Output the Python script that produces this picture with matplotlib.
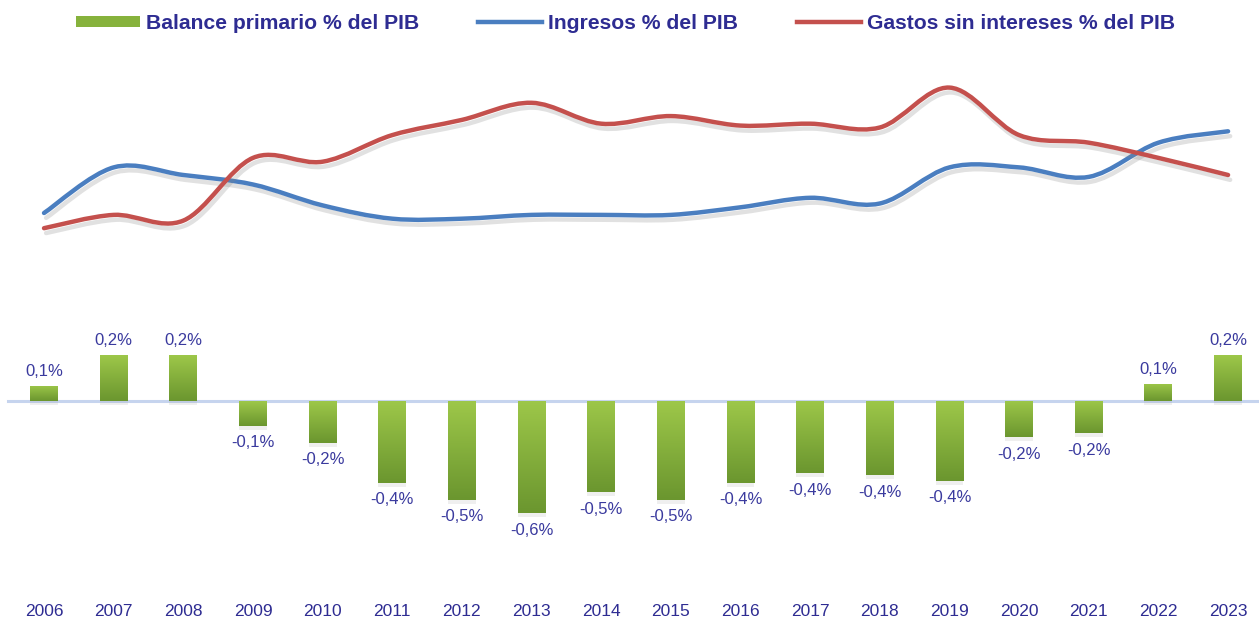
# imports
import matplotlib.pyplot as plt
import matplotlib.patheffects as pe
import numpy as np
from matplotlib.colors import LinearSegmentedColormap
from matplotlib.lines import Line2D
from matplotlib.patches import Patch, PathPatch
from matplotlib.path import Path

# set plotting params
plt.rcParams['font.family'] = ['Liberation Sans Narrow', 'Liberation Sans', 'DejaVu Sans']

# data
years = ['2006', '2007', '2008', '2009', '2010', '2011', '2012', '2013', '2014',
         '2015', '2016', '2017', '2018', '2019', '2020', '2021', '2022', '2023']
balance = [0.08, 0.24, 0.24, -0.13, -0.22, -0.43, -0.52, -0.59, -0.48,
           -0.52, -0.43, -0.38, -0.39, -0.42, -0.19, -0.17, 0.09, 0.24]
ingresos = [20.00, 20.24, 20.20, 20.15, 20.04, 19.97, 19.97, 19.99, 19.99,
            19.99, 20.03, 20.08, 20.05, 20.24, 20.24, 20.19, 20.37, 20.43]
gastos = [19.92, 19.99, 19.96, 20.29, 20.27, 20.41, 20.49, 20.58, 20.47,
          20.51, 20.46, 20.47, 20.45, 20.66, 20.41, 20.37, 20.29, 20.20]

NAVY = '#2E2C92'
LABEL = '#3A3A9E'
BLUE = '#4A7EC0'
RED = '#C4504D'
GREEN = '#86B23C'


def smooth_path(x, y):
    '''excel-like smoothed curve as a bezier path through the points'''
    x = np.asarray(x, dtype=float)
    y = np.asarray(y, dtype=float)
    n = len(x)
    verts = [(x[0], y[0])]
    codes = [Path.MOVETO]
    for i in range(n - 1):
        p0 = np.array([x[max(i - 1, 0)], y[max(i - 1, 0)]])
        p1 = np.array([x[i], y[i]])
        p2 = np.array([x[i + 1], y[i + 1]])
        p3 = np.array([x[min(i + 2, n - 1)], y[min(i + 2, n - 1)]])
        c1 = p1 + (p2 - p0) / 6
        c2 = p2 - (p3 - p1) / 6
        verts += [tuple(c1), tuple(c2), tuple(p2)]
        codes += [Path.CURVE4] * 3
    return Path(verts, codes)


fig = plt.figure(figsize=(12.59, 6.22), dpi=100)
ax = fig.add_axes([0, 25 / 622, 1, 597 / 622])
ax2 = ax.twinx()

x = np.arange(len(years))
xlim = (-0.632, 17.444)

# zero line
ax.axhline(0, xmin=0.006, xmax=1, color='#C6D4EE', lw=2.2, zorder=1)

# bars with gradient fill
bars = ax.bar(x, balance, width=0.4, color=GREEN, zorder=2,
              path_effects=[pe.SimplePatchShadow(offset=(0, -3), shadow_rgbFace='#999999', alpha=0.15),
                            pe.Normal()])
cmap = LinearSegmentedColormap.from_list('grn', ['#6B962F', '#9DC749'])
grad = np.linspace(1, 0, 100).reshape(-1, 1)
for b in bars:
    x0 = b.get_x()
    y0 = min(0, b.get_height())
    y1 = max(0, b.get_height())
    im = ax.imshow(grad, extent=(x0, x0 + b.get_width(), y0, y1), aspect='auto',
                   cmap=cmap, zorder=3, interpolation='bilinear')
    im.set_clip_path(b)

# data labels
for xi, v in zip(x, balance):
    txt = f'{v:.1f}%'.replace('.', ',')
    if v >= 0:
        ax.annotate(txt, (xi, v), xytext=(0, 5), textcoords='offset points',
                    ha='center', va='bottom', fontsize=12, color=LABEL, zorder=4)
    else:
        ax.annotate(txt, (xi, v), xytext=(0, -7), textcoords='offset points',
                    ha='center', va='top', fontsize=12, color=LABEL, zorder=4)

ax.set_xlim(xlim)
ax.set_ylim(-1.032, 2.111)
ax.set_xticks(x)
ax.set_xticklabels(years, fontsize=12.5, color=NAVY)
ax.tick_params(axis='x', length=0, pad=5)
ax.set_yticks([])
for s in ax.spines.values():
    s.set_visible(False)

# smoothed lines
shadow = [pe.SimpleLineShadow(offset=(1.5, -3.5), shadow_color='#888888', alpha=0.25), pe.Normal()]
for series, col in [(ingresos, BLUE), (gastos, RED)]:
    patch = PathPatch(smooth_path(x, series), facecolor='none', edgecolor=col,
                      lw=3.2, capstyle='round', path_effects=shadow, zorder=3)
    ax2.add_patch(patch)

ax2.set_xlim(xlim)
ax2.set_ylim(17.979, 21.121)
ax2.set_yticks([])
for s in ax2.spines.values():
    s.set_visible(False)

# legend
handles = [Patch(facecolor=GREEN, edgecolor='none'),
           Line2D([], [], color=BLUE, lw=3.2),
           Line2D([], [], color=RED, lw=3.2)]
labels = ['Balance primario % del PIB', 'Ingresos % del PIB', 'Gastos sin intereses % del PIB']
leg = ax2.legend(handles, labels, loc='upper center', bbox_to_anchor=(0.497, 1.0), ncol=3,
                 frameon=False, handlelength=3.0, handleheight=0.45, handletextpad=0.3,
                 columnspacing=2.8, borderaxespad=0.25,
                 prop={'size': 15.2, 'weight': 'bold'})
for t in leg.get_texts():
    t.set_color(NAVY)

plt.savefig('out.png', dpi=100)
